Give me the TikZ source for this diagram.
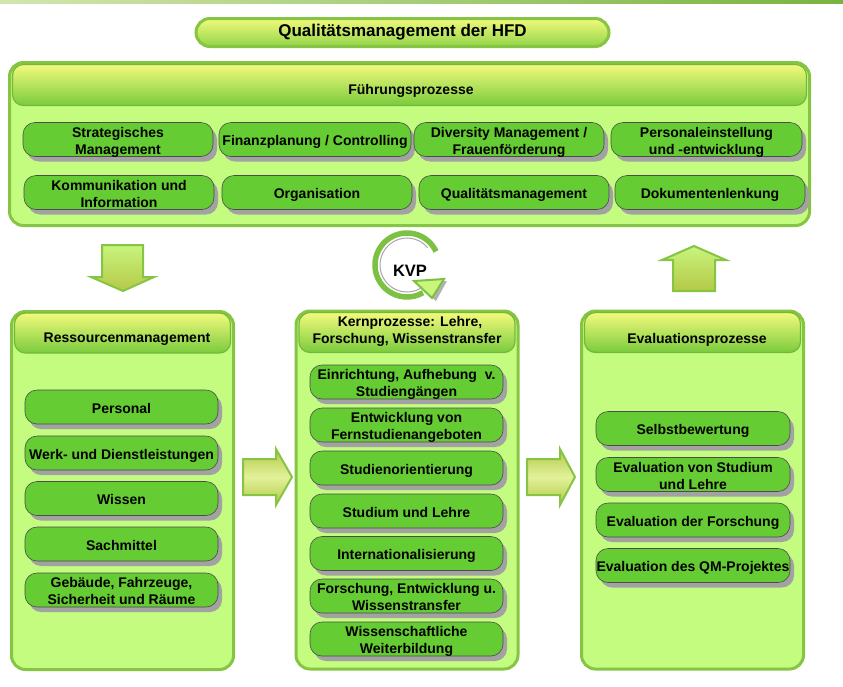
\documentclass[tikz,border=0pt]{standalone}
\usepackage{fontspec}
\setmainfont{Liberation Sans}
\definecolor{rim}{HTML}{86C443}
\definecolor{hdrim}{HTML}{74B83A}
\definecolor{panelc}{HTML}{C4FC80}
\definecolor{hdtop}{HTML}{F2FA7C}
\definecolor{hdbot}{HTML}{7ACB3D}
\definecolor{btnc}{HTML}{66CC33}
\definecolor{shadec}{HTML}{A2A2A2}
\definecolor{arrtop}{HTML}{C8F57C}
\definecolor{arrbot}{HTML}{B5C848}
\definecolor{arrmid}{HTML}{E2F29A}
\definecolor{topl}{HTML}{D2E6AE}
\definecolor{topr}{HTML}{7AB340}
\definecolor{kvpc}{HTML}{7DC142}
\begin{document}
\begin{tikzpicture}[x=1pt,y=-1pt,
  font=\fontsize{14}{17}\selectfont\bfseries,
  panel/.style={draw=rim, line width=3pt, fill=panelc, rounded corners=14pt, inner sep=0pt},
  header/.style={draw=hdrim, line width=1.2pt, top color=hdtop, bottom color=hdbot, rounded corners=11pt, inner sep=0pt},
  titlebox/.style={draw=rim, line width=3pt, top color=hdtop, bottom color=hdbot!80!hdtop, rounded corners=14pt, inner sep=0pt, font=\fontsize{17}{20}\selectfont\bfseries},
  btn/.style={draw=black!70, line width=0.6pt, fill=btnc, rounded corners=12pt, minimum height=34pt, align=center, inner xsep=0pt, inner ysep=0pt,
    preaction={fill=shadec, transform canvas={shift={(4pt,-5pt)}}}},
  one/.style={text height=12pt, text depth=0pt},
  two/.style={text height=31pt, text depth=2pt},
  blockarrow/.style={draw=rim, line width=2pt, top color=arrtop, bottom color=arrbot},
  sidearrow/.style={draw=rim, line width=2pt, top color=arrbot, bottom color=arrbot, middle color=arrmid},
  lbl/.style={inner sep=0pt, align=center}
]
\useasboundingbox (0,0) rectangle (843,686);
% top line
\fill[left color=topl, right color=topr] (0,0) rectangle (843,3);

% title
\node[titlebox, minimum width=413, minimum height=28] (title) at (402.5,32.5) {Qualitätsmanagement der HFD};

% Führungsprozesse
\node[panel, minimum width=800, minimum height=163] (fp) at (409.5,144) {};
\node[header, minimum width=794, minimum height=41] (fph) at (409.5,85) {};
\node[lbl] (fpt) at (411,91) {Führungsprozesse};

\node[btn, two, minimum width=190] (f1) at (118,139.5) {Strategisches\\Management};
\node[btn, one, minimum width=192] (f2) at (315,139.5) {Finanzplanung / Controlling};
\node[btn, two, minimum width=190] (f3) at (509,139.5) {Diversity Management /\\Frauenförderung};
\node[btn, two, minimum width=191] (f4) at (706.5,139.5) {Personaleinstellung\\und -entwicklung};
\node[btn, two, minimum width=190] (f5) at (119,192.5) {Kommunikation und\\Information};
\node[btn, one, minimum width=190] (f6) at (317,192.5) {Organisation};
\node[btn, one, minimum width=190] (f7) at (514,192.5) {Qualitätsmanagement};
\node[btn, one, minimum width=190] (f8) at (710,192.5) {Dokumentenlenkung};

% block arrows
\path[blockarrow] (102,245) -- (143,245) -- (143,277) -- (154,277) -- (123,291) -- (91,277) -- (102,277) -- cycle;
\path[blockarrow] (694,246) -- (726,260) -- (715,260) -- (715,291) -- (673,291) -- (673,260) -- (662,260) -- cycle;
\path[sidearrow] (243,459) -- (276,459) -- (276,449) -- (292,477) -- (276,505) -- (276,495) -- (243,495) -- cycle;
\path[sidearrow] (527,459) -- (560,459) -- (560,449) -- (575,477) -- (560,505) -- (560,495) -- (527,495) -- cycle;

% KVP cycle
\draw[gray!70, line width=1pt] (407,265) ++(-40:27) arc[start angle=-40, end angle=-300, radius=27];
\draw[kvpc, line width=5.5pt] (407,265) ++(-25:32) arc[start angle=-25, end angle=-300, radius=32];
\fill[gray!60] (418,283) -- (447,281) -- (436,301) -- cycle;
\filldraw[draw=kvpc, line width=2pt, fill=arrtop] (414,281) -- (444,279) -- (432,298) -- cycle;
\node[lbl, font=\fontsize{16.5}{18}\selectfont\bfseries] (kvp) at (410,271) {KVP};

% Ressourcenmanagement
\node[panel, minimum width=222, minimum height=358] (rm) at (122.5,490.5) {};
\node[header, minimum width=216, minimum height=40] (rmh) at (122.5,333) {};
\node[lbl] (rmt) at (127,339) {Ressourcenmanagement};
\node[btn, one, minimum width=193] (r1) at (121.5,407) {Personal};
\node[btn, one, minimum width=193] (r2) at (121.5,453) {Werk- und Dienstleistungen};
\node[btn, one, minimum width=193] (r3) at (121.5,498.5) {Wissen};
\node[btn, one, minimum width=193] (r4) at (121.5,544) {Sachmittel};
\node[btn, two, minimum width=193] (r5) at (121.5,590) {Gebäude, Fahrzeuge,\\Sicherheit und Räume};

% Kernprozesse
\node[panel, minimum width=222, minimum height=358] (kp) at (407,490) {};
\node[header, minimum width=216, minimum height=40] (kph) at (407,332.5) {};
\node[lbl] (kpt) at (407,331.5) {\hspace*{6pt}Kernprozesse: Lehre,\\Forschung, Wissenstransfer};
\node[btn, two, minimum width=193] (k1) at (406.5,382) {Einrichtung, Aufhebung\ \ v.\\Studiengängen};
\node[btn, two, minimum width=193] (k2) at (406.5,425) {Entwicklung von\\Fernstudienangeboten};
\node[btn, one, minimum width=193] (k3) at (406.5,468) {Studienorientierung};
\node[btn, one, minimum width=193] (k4) at (406.5,511) {Studium und Lehre};
\node[btn, one, minimum width=193] (k5) at (406.5,553.5) {Internationalisierung};
\node[btn, two, minimum width=193] (k6) at (406.5,596) {Forschung, Entwicklung u.\\Wissenstransfer};
\node[btn, two, minimum width=193] (k7) at (406.5,639) {Wissenschaftliche\\Weiterbildung};

% Evaluationsprozesse
\node[panel, minimum width=222, minimum height=358] (ep) at (692.5,490) {};
\node[header, minimum width=216, minimum height=40] (eph) at (692.5,332.5) {};
\node[lbl] (ept) at (697,340) {Evaluationsprozesse};
\node[btn, one, minimum width=194] (e1) at (693,428.5) {Selbstbewertung};
\node[btn, two, minimum width=194] (e2) at (693,474.5) {Evaluation von Studium\\und Lehre};
\node[btn, one, minimum width=194] (e3) at (693,520) {Evaluation der Forschung};
\node[btn, one, minimum width=194] (e4) at (693,565.5) {Evaluation des QM-Projektes};
\end{tikzpicture}
\end{document}
